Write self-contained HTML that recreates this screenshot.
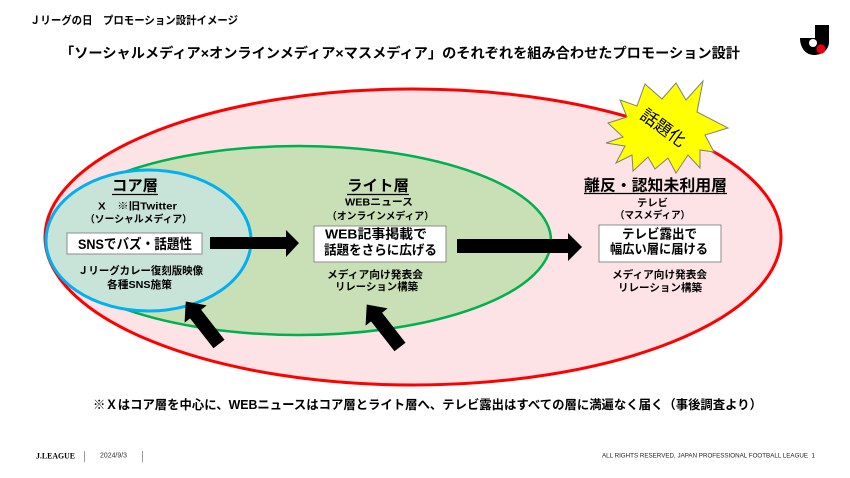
<!DOCTYPE html>
<html>
<head>
<meta charset="utf-8">
<style>
  html,body{margin:0;padding:0;background:#fff;}
  body{width:850px;height:478px;overflow:hidden;}
  svg{display:block;}
  text{font-family:"Liberation Sans","Noto Sans CJK JP",sans-serif;fill:#000;}
  .b{font-weight:bold;}
</style>
</head>
<body>
<svg width="850" height="478" viewBox="0 0 850 478" xmlns="http://www.w3.org/2000/svg">
  <rect x="0" y="0" width="850" height="478" fill="#ffffff"/>

  <!-- Header -->
  <text class="b" x="30" y="21" font-size="11" dominant-baseline="central" textLength="208" lengthAdjust="spacingAndGlyphs">Ｊリーグの日　プロモーション設計イメージ</text>
  <text class="b" x="60" y="53" font-size="14" dominant-baseline="central" textLength="680" lengthAdjust="spacingAndGlyphs">「ソーシャルメディア×オンラインメディア×マスメディア」のそれぞれを組み合わせたプロモーション設計</text>

  <!-- J logo -->
  <path d="M815,25 H829 V42 C829,50 822,55 814,55 C806,55 800,48 800,38 H815 Z" fill="#000"/>
  <circle cx="813" cy="43" r="4" fill="#fff"/>
  <circle cx="821" cy="49" r="4.6" fill="#e60012"/>

  <!-- Ellipses -->
  <ellipse cx="413" cy="237" rx="368" ry="148" fill="#fde3e5" stroke="#ff0000" stroke-width="3"/>
  <ellipse cx="298.5" cy="240.5" rx="252.5" ry="94.5" fill="#c9dfb5" stroke="#00b050" stroke-width="2.5"/>
  <ellipse cx="148.5" cy="240.5" rx="102.5" ry="70.5" fill="#c8e4d9" stroke="#00b0f0" stroke-width="3"/>

  <!-- Starburst -->
  <polygon points="645,84 662,99 676,83 686,100 703,81 697,112 728,128 705,135 714,152 700,150 700,168 688,155 676,173 668,158 655,169 648,157 633,171 632,155 616,163 625,146 606,143 623,137 608,123 627,117 620,100 637,106"
           fill="#ffff00" stroke="#7f7f7f" stroke-width="1"/>
  <text x="0" y="0" font-size="17" text-anchor="middle" dominant-baseline="central" transform="translate(663,128) rotate(36)">話題化</text>

  <!-- Horizontal arrows -->
  <polygon points="210,237 286,237 286,230 299,243 286,257 286,249 210,249" fill="#000"/>
  <polygon points="457,239 568,239 568,233 582,247 568,261 568,253 457,253" fill="#000"/>

  <!-- Diagonal arrows -->
  <polygon points="0,-7 38,-7 38,-14 54,0 38,14 38,7 0,7" fill="#000" transform="translate(219,344) rotate(-128)"/>
  <polygon points="0,-7 38,-7 38,-14 54,0 38,14 38,7 0,7" fill="#000" transform="translate(400,347) rotate(-128)"/>

  <!-- Core layer -->
  <text class="b" x="135" y="186" font-size="15" text-anchor="middle" dominant-baseline="central" textLength="46" lengthAdjust="spacingAndGlyphs">コア層</text>
  <line x1="112" y1="194.5" x2="158" y2="194.5" stroke="#000" stroke-width="1.2"/>
  <text class="b" x="137.5" y="207" font-size="10" text-anchor="middle" dominant-baseline="central" textLength="79" lengthAdjust="spacingAndGlyphs">X　※旧Twitter</text>
  <text class="b" x="138.5" y="220" font-size="10" text-anchor="middle" dominant-baseline="central" textLength="107" lengthAdjust="spacingAndGlyphs">（ソーシャルメディア）</text>
  <rect x="67" y="233" width="135" height="21" fill="#fff" stroke="#8c8c8c" stroke-width="1"/>
  <text class="b" x="135" y="244" font-size="14" text-anchor="middle" dominant-baseline="central" textLength="114" lengthAdjust="spacingAndGlyphs">SNSでバズ・話題性</text>
  <text class="b" x="140.5" y="271" font-size="10.5" text-anchor="middle" dominant-baseline="central" textLength="125" lengthAdjust="spacingAndGlyphs">Ｊリーグカレー復刻版映像</text>
  <text class="b" x="139.5" y="285" font-size="10.5" text-anchor="middle" dominant-baseline="central" textLength="65" lengthAdjust="spacingAndGlyphs">各種SNS施策</text>

  <!-- Light layer -->
  <text class="b" x="378" y="186" font-size="15" text-anchor="middle" dominant-baseline="central" textLength="62" lengthAdjust="spacingAndGlyphs">ライト層</text>
  <line x1="347" y1="194.5" x2="409" y2="194.5" stroke="#000" stroke-width="1.2"/>
  <text class="b" x="379" y="203" font-size="10" text-anchor="middle" dominant-baseline="central" textLength="68" lengthAdjust="spacingAndGlyphs">WEBニュース</text>
  <text class="b" x="380.5" y="217" font-size="10" text-anchor="middle" dominant-baseline="central" textLength="107" lengthAdjust="spacingAndGlyphs">（オンラインメディア）</text>
  <rect x="314" y="226" width="132" height="36" fill="#fff" stroke="#8c8c8c" stroke-width="1"/>
  <text class="b" x="376" y="234" font-size="13" text-anchor="middle" dominant-baseline="central" textLength="102" lengthAdjust="spacingAndGlyphs">WEB記事掲載で</text>
  <text class="b" x="380.5" y="250" font-size="13" text-anchor="middle" dominant-baseline="central" textLength="113" lengthAdjust="spacingAndGlyphs">話題をさらに広げる</text>
  <text class="b" x="375" y="275" font-size="10.5" text-anchor="middle" dominant-baseline="central" textLength="96" lengthAdjust="spacingAndGlyphs">メディア向け発表会</text>
  <text class="b" x="376.5" y="287" font-size="10.5" text-anchor="middle" dominant-baseline="central" textLength="83" lengthAdjust="spacingAndGlyphs">リレーション構築</text>

  <!-- Outer layer -->
  <text class="b" x="655.5" y="186" font-size="15.5" text-anchor="middle" dominant-baseline="central" textLength="143" lengthAdjust="spacingAndGlyphs">離反・認知未利用層</text>
  <line x1="584" y1="193.5" x2="727" y2="193.5" stroke="#000" stroke-width="1.2"/>
  <text class="b" x="652.5" y="204" font-size="10" text-anchor="middle" dominant-baseline="central" textLength="31" lengthAdjust="spacingAndGlyphs">テレビ</text>
  <text class="b" x="652.5" y="216" font-size="10" text-anchor="middle" dominant-baseline="central" textLength="75" lengthAdjust="spacingAndGlyphs">（マスメディア）</text>
  <rect x="599" y="225" width="122" height="37" fill="#fff" stroke="#8c8c8c" stroke-width="1"/>
  <text class="b" x="659.5" y="234" font-size="13" text-anchor="middle" dominant-baseline="central" textLength="75" lengthAdjust="spacingAndGlyphs">テレビ露出で</text>
  <text class="b" x="659" y="249" font-size="13" text-anchor="middle" dominant-baseline="central" textLength="98" lengthAdjust="spacingAndGlyphs">幅広い層に届ける</text>
  <text class="b" x="659.5" y="275" font-size="10.5" text-anchor="middle" dominant-baseline="central" textLength="95" lengthAdjust="spacingAndGlyphs">メディア向け発表会</text>
  <text class="b" x="660" y="288" font-size="10.5" text-anchor="middle" dominant-baseline="central" textLength="84" lengthAdjust="spacingAndGlyphs">リレーション構築</text>

  <!-- Bottom note -->
  <text class="b" x="93" y="405" font-size="12.5" dominant-baseline="central" textLength="669" lengthAdjust="spacingAndGlyphs">※Ｘはコア層を中心に、WEBニュースはコア層とライト層へ、テレビ露出はすべての層に満遍なく届く（事後調査より）</text>

  <!-- Footer -->
  <text x="36" y="456" font-size="8" dominant-baseline="central" font-weight="bold" style="font-family:'Liberation Serif',serif;" textLength="39" lengthAdjust="spacingAndGlyphs">J.LEAGUE</text>
  <line x1="84.5" y1="451" x2="84.5" y2="462" stroke="#9a9a9a" stroke-width="1"/>
  <text x="100" y="456" font-size="7" dominant-baseline="central" fill="#333" textLength="27" lengthAdjust="spacingAndGlyphs" style="fill:#333">2024/9/3</text>
  <line x1="142.5" y1="451" x2="142.5" y2="462" stroke="#9a9a9a" stroke-width="1"/>
  <text x="602" y="456" font-size="6.5" dominant-baseline="central" textLength="213" lengthAdjust="spacingAndGlyphs" style="fill:#222">ALL RIGHTS RESERVED, JAPAN PROFESSIONAL FOOTBALL LEAGUE&#160;&#160;1</text>
</svg>
</body>
</html>
